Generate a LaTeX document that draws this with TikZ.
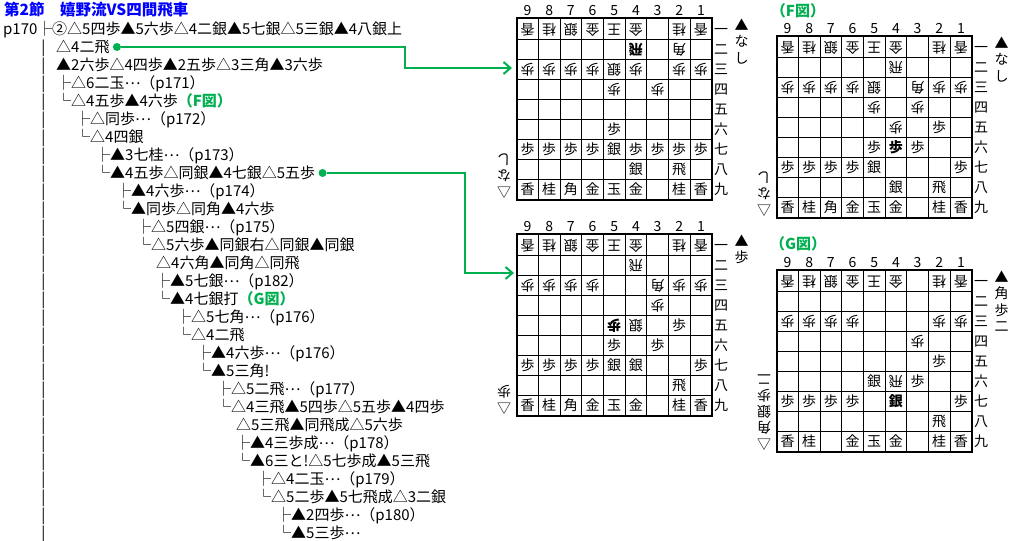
\documentclass[tikz,border=0pt]{standalone}
\usepackage{fontspec}
\setmainfont{Noto Sans CJK JP}
\usetikzlibrary{positioning,arrows.meta}
\definecolor{linkgreen}{RGB}{0,176,80}
\definecolor{titleblue}{RGB}{0,0,255}
\tikzset{
    moveline/.style={anchor=west},
    gote/.style={rotate=180},
    sente/.style={},
    figlabel/.style={text=linkgreen, font=\fontsize{15}{18}\selectfont\bfseries},
    linkdot/.style={circle, fill=linkgreen, minimum size=8pt, text height=0pt, text depth=0pt},
    link/.style={draw=linkgreen, line width=2pt},
    gridline/.style={line width=0.8pt},
    frameline/.style={line width=2pt}
}
\newcommand{\fig}[1]{{\color{linkgreen}\bfseries #1}}
\newcommand{\mdots}{\raisebox{4.5pt}{…}}
\newcommand{\shogiboard}[7]{
    \begin{scope}[shift={(#2,#3)},
            every node/.style={inner sep=0pt, text height=12.3pt, text depth=1.7pt,
                font=\fontsize{14}{17}\selectfont}]
        \foreach \i in {1,...,8} {
            \draw[gridline] ({\i*21.67},0) -- ({\i*21.67},181.5);
            \draw[gridline] (0,{1.5+\i*20}) -- (195,{1.5+\i*20});
        }
        \draw[frameline] (0,0) rectangle (195,181.5);
        \foreach \c [count=\i] in {9,8,7,6,5,4,3,2,1}
            \node (#1-col\c) at ({(\i-.5)*21.67},-8) {\c};
        \foreach \r [count=\i] in {一,二,三,四,五,六,七,八,九}
            \node (#1-row\i) at (204.5,{1.5+(\i-.5)*20}) {\r};
        \foreach \c/\p in {9/香,8/桂,7/銀,6/金,5/王,4/金,2/桂,1/香}
            \node[gote] (#1-\c-1) at ({(9-\c+.5)*21.67},11.5) {\p};
        \foreach \c/\r/\p in {#4}
            \node[gote] (#1-\c-\r) at ({(9-\c+.5)*21.67},{1.5+(\r-.5)*20}) {\p};
        \foreach \c/\p in {9/香,8/桂,6/金,5/玉,4/金,2/桂,1/香}
            \node[sente] (#1-\c-9) at ({(9-\c+.5)*21.67},171.5) {\p};
        \foreach \c/\r/\p in {#5}
            \node[sente] (#1-\c-\r) at ({(9-\c+.5)*21.67},{1.5+(\r-.5)*20}) {\p};
        \foreach \h [count=\i] in {#6}
            \node (#1-hand\i) at (225,{7+(\i-1)*16.5}) {\h};
        \node (#1-mark) at (-12.7,174) {▽};
        \foreach \h [count=\i] in {#7}
            \node[gote] (#1-ghand\i) at (-12.7,{174-\i*16}) {\h};
    \end{scope}
}
\begin{document}
\begin{tikzpicture}[x=1pt, y=-1pt,
        every node/.style={inner sep=0pt, text height=13.2pt, text depth=1.8pt,
            font=\fontsize{15}{18}\selectfont}]
    \useasboundingbox (0,0) rectangle (1018,541);
    \node[moveline, text=titleblue, font=\fontsize{15.5}{18}\selectfont\bfseries] (title) at (4,10) {第2節　嬉野流VS四間飛車};
    \node[moveline] (page) at (3,29) {p170};
    \foreach \y in {1,...,28}
        \node (bar\y) at (43.3,{29+18*\y}) {|};
    \foreach \x/\t [count=\n from 0] in {
        37/{├②△5四歩▲5六歩△4二銀▲5七銀△5三銀▲4八銀上},
        56/{△4二飛},
        56/{▲2六歩△4四歩▲2五歩△3三角▲3六歩},
        56/{├△6二玉\mdots（p171）},
        56/{└△4五歩▲4六歩\fig{（F図）}},
        75/{├△同歩\mdots（p172）},
        75/{└△4四銀},
        95/{├▲3七桂\mdots（p173）},
        95/{└▲4五歩△同銀▲4七銀△5五歩},
        116/{├▲4六歩\mdots（p174）},
        116/{└▲同歩△同角▲4六歩},
        136/{├△5四銀\mdots（p175）},
        136/{└△5六歩▲同銀右△同銀▲同銀},
        156/{△4六角▲同角△同飛},
        155/{├▲5七銀\mdots（p182）},
        155/{└▲4七銀打\fig{（G図）}},
        176/{├△5七角\mdots（p176）},
        176/{└△4二飛},
        196/{├▲4六歩\mdots（p176）},
        196/{└▲5三角!},
        216/{├△5二飛\mdots（p177）},
        216/{└△4三飛▲5四歩△5五歩▲4四歩},
        236/{△5三飛▲同飛成△5六歩},
        235/{├▲4三歩成\mdots（p178）},
        235/{└▲6三と!△5七歩成▲5三飛},
        256/{├△4二玉\mdots（p179）},
        256/{└△5二歩▲5七飛成△3二銀},
        276/{├▲2四歩\mdots（p180）},
        276/{└▲5三歩\mdots}}
        \node[moveline] (line\n) at (\x,{29+18*\n}) {\t};

    \shogiboard{A}{516.7}{18}
        {4/2/{\bfseries 飛},2/2/角,9/3/歩,8/3/歩,7/3/歩,6/3/歩,5/3/銀,4/3/歩,2/3/歩,1/3/歩,5/4/歩,3/4/歩}
        {5/6/歩,9/7/歩,8/7/歩,7/7/歩,6/7/歩,5/7/銀,4/7/歩,3/7/歩,2/7/歩,1/7/歩,4/8/銀,2/8/飛,7/9/角}
        {▲,な,し}{な,し}
    \shogiboard{F}{776.7}{36}
        {4/2/飛,9/3/歩,8/3/歩,7/3/歩,6/3/歩,5/3/銀,3/3/角,2/3/歩,1/3/歩,5/4/歩,3/4/歩,4/5/歩}
        {2/5/歩,5/6/歩,4/6/{\bfseries 歩},3/6/歩,9/7/歩,8/7/歩,7/7/歩,6/7/歩,5/7/銀,1/7/歩,4/8/銀,2/8/飛,7/9/角}
        {▲,な,し}{な,し}
    \shogiboard{B}{516.7}{234}
        {4/2/飛,9/3/歩,8/3/歩,7/3/歩,6/3/歩,3/3/角,2/3/歩,1/3/歩,3/4/歩,5/5/{\bfseries 歩},4/5/銀}
        {2/5/歩,5/6/歩,3/6/歩,9/7/歩,8/7/歩,7/7/歩,6/7/歩,5/7/銀,4/7/銀,1/7/歩,2/8/飛,7/9/角}
        {▲,歩}{歩}
    \shogiboard{G}{776.7}{270}
        {9/3/歩,8/3/歩,7/3/歩,6/3/歩,2/3/歩,1/3/歩,3/4/歩,4/6/飛}
        {2/5/歩,5/6/銀,3/6/歩,9/7/歩,8/7/歩,7/7/歩,6/7/歩,4/7/{\bfseries 銀},1/7/歩,2/8/飛}
        {▲,角,歩,二}{角,銀,歩,二}

    \node[figlabel] (figF) at (798,11) {（F図）};
    \node[figlabel] (figG) at (798,244) {（G図）};

    \node[linkdot, right=3pt of line1] (dotA) {};
    \node[linkdot, right=3pt of line8] (dotB) {};
    \coordinate (bendA) at (405,68);
    \coordinate (tipA) at (512,68);
    \coordinate (bendB) at (465,273);
    \coordinate (tipB) at (514,273);
    \draw[link, -{Straight Barb[length=7pt,width=12pt]}] (dotA) -| (bendA) -- (tipA);
    \draw[link, -{Straight Barb[length=7pt,width=12pt]}] (dotB) -| (bendB) -- (tipB);
\end{tikzpicture}
\end{document}
